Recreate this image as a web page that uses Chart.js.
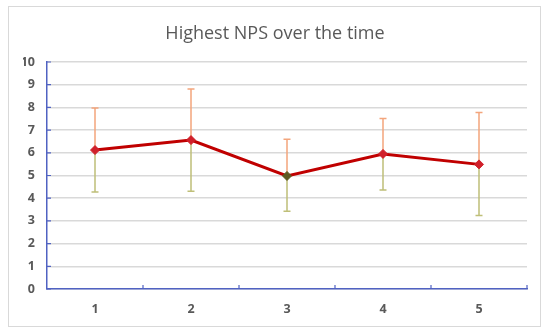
<!DOCTYPE html>
<html><head><meta charset="utf-8">
<script src="https://cdn.jsdelivr.net/npm/chart.js@4"></script>
<style>
html,body{margin:0;padding:0;background:#fff;}
#frame{position:absolute;left:8px;top:6px;width:533px;height:321px;border:1px solid #d9d9d9;box-sizing:border-box;}
#wrap{position:absolute;left:0;top:0;width:550px;height:336px;}
</style></head>
<body>
<div id="frame"></div>
<div id="wrap"><canvas id="c" width="550" height="336"></canvas></div>
<script>
const categories = ['1','2','3','4','5'];
const meanValues = [6.12, 6.56, 4.98, 5.95, 5.49];
const errorHigh = [7.97, 8.81, 6.60, 7.51, 7.78];
const errorLow = [4.27, 4.31, 3.43, 4.36, 3.24];
const yTicks = [0,1,2,3,4,5,6,7,8,9,10];
const titleText = 'Highest NPS over the time';

const axisBlue = '#5062c2';
const errorBarsPlugin = {
  id: 'errorBars',
  beforeDatasetsDraw(chart) {
    const ctx = chart.ctx, x = chart.scales.x, y = chart.scales.y;
    ctx.save();
    ctx.lineWidth = 1.5;
    meanValues.forEach((m, i) => {
      const px = x.getPixelForValue(i);
      const pm = y.getPixelForValue(m), ph = y.getPixelForValue(errorHigh[i]), pl = y.getPixelForValue(errorLow[i]);
      ctx.strokeStyle = '#f3a57c';
      ctx.beginPath(); ctx.moveTo(px, pm); ctx.lineTo(px, ph);
      ctx.moveTo(px - 3.5, ph); ctx.lineTo(px + 3.5, ph); ctx.stroke();
      ctx.strokeStyle = '#bfbf78';
      ctx.beginPath(); ctx.moveTo(px, pm); ctx.lineTo(px, pl);
      ctx.moveTo(px - 3.5, pl); ctx.lineTo(px + 3.5, pl); ctx.stroke();
    });
    ctx.restore();
  },
  afterDraw(chart) {
    const ctx = chart.ctx, x = chart.scales.x, y = chart.scales.y, a = chart.chartArea;
    ctx.save();
    ctx.strokeStyle = axisBlue; ctx.lineWidth = 1.2;
    ctx.beginPath();
    const n = categories.length;
    for (let i = 1; i <= n; i++) {
      const px = a.left + (a.right - a.left) * i / n;
      ctx.moveTo(px, a.bottom); ctx.lineTo(px, a.bottom - 4);
    }
    yTicks.forEach(v => {
      const py = y.getPixelForValue(v);
      ctx.moveTo(a.left, py); ctx.lineTo(a.left + 4, py);
    });
    ctx.stroke();
    ctx.restore();
  }
};

new Chart(document.getElementById('c'), {
  type: 'line',
  data: {
    labels: categories,
    datasets: [{
      data: meanValues,
      borderColor: '#c00000',
      borderWidth: 3,
      tension: 0,
      pointStyle: 'rectRot',
      pointRadius: 4.5,
      pointBackgroundColor: ['#d0202a','#d0202a','#5e5a22','#d0202a','#d0202a'],
      pointBorderColor: ['#d0202a','#d0202a','#5e5a22','#d0202a','#d0202a'],
      pointBorderWidth: 1
    }]
  },
  options: {
    responsive: false,
    animation: false,
    layout: { padding: { left: 23, right: 23, top: 17, bottom: 0 } },
    plugins: {
      legend: { display: false },
      tooltip: { enabled: false },
      title: {
        display: true, text: titleText, color: '#595959',
        font: { family: 'Open Sans', size: 18, weight: 'normal' },
        padding: { top: 6, bottom: 17.4 }
      }
    },
    scales: {
      x: {
        offset: true,
        grid: { display: false, drawTicks: false },
        border: { display: true, color: axisBlue, width: 1.5 },
        ticks: { color: '#595959', font: { family: 'Open Sans', size: 12.5, weight: 'bold' }, padding: 13 },
        afterFit(s) { s.height = 47; }
      },
      y: {
        min: 0, max: 10,
        afterBuildTicks(s) { s.ticks = yTicks.map(v => ({ value: v })); },
        grid: { color: '#d9d9d9', lineWidth: 1.5, drawTicks: false },
        border: { display: true, color: axisBlue, width: 1.5 },
        ticks: { color: '#595959', font: { family: 'Open Sans', size: 12.5, weight: 'bold' }, padding: 12 },
        afterFit(s) { s.width = 24; }
      }
    }
  },
  plugins: [errorBarsPlugin]
});
</script>
</body></html>
